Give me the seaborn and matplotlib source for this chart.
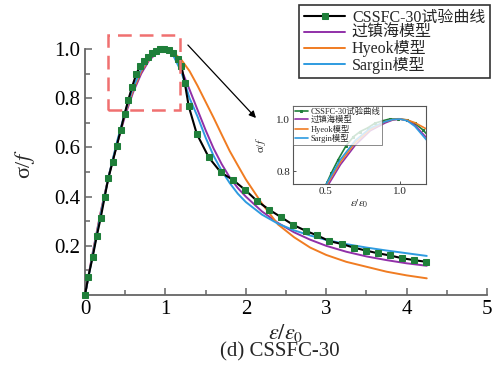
import matplotlib
matplotlib.use("Agg")
import matplotlib.pyplot as plt
import seaborn as sns
import pandas as pd
from matplotlib.patches import Rectangle
from matplotlib.ticker import FixedLocator

# Experimental stress-strain curve of CSSFC-30 (normalised)
exp_x = [0, 0.04, 0.095, 0.145, 0.195, 0.245, 0.29, 0.344, 0.394, 0.443, 0.493,
         0.538, 0.584, 0.637, 0.687, 0.733, 0.783, 0.832, 0.882, 0.93, 0.985,
         1.045, 1.10, 1.155, 1.2, 1.242, 1.29, 1.39, 1.54, 1.69, 1.84, 1.996,
         2.14, 2.29, 2.44, 2.59, 2.745, 2.89, 3.04, 3.2, 3.34, 3.49, 3.64, 3.79,
         3.94, 4.09, 4.245]
exp_y = [0, 0.072, 0.154, 0.238, 0.313, 0.399, 0.474, 0.542, 0.605, 0.669, 0.736,
         0.792, 0.844, 0.897, 0.932, 0.952, 0.966, 0.984, 0.993, 1.0, 1.0,
         0.997, 0.983, 0.958, 0.929, 0.86, 0.767, 0.655, 0.559, 0.498, 0.468, 0.426,
         0.382, 0.347, 0.316, 0.285, 0.261, 0.242, 0.219, 0.207, 0.193, 0.181, 0.17,
         0.161, 0.15, 0.142, 0.135]

# Constitutive model curves sampled on a common strain grid
model_x = [0, 0.1, 0.2, 0.3, 0.4, 0.5, 0.6, 0.7, 0.8, 0.9, 0.95, 1.0, 1.05, 1.1,
           1.2, 1.3, 1.4, 1.5, 1.6, 1.7, 1.8, 1.9, 2.0, 2.2, 2.4, 2.6, 2.8, 3.0,
           3.25, 3.5, 3.75, 4.0, 4.25]
guo_y = [0, 0.18, 0.345, 0.49, 0.615, 0.73, 0.825, 0.90, 0.955, 0.985, 0.996, 1.0,
         0.994, 0.976, 0.915, 0.835, 0.752, 0.67, 0.595, 0.532, 0.478, 0.435, 0.40,
         0.34, 0.293, 0.255, 0.225, 0.20, 0.176, 0.157, 0.142, 0.129, 0.119]
hyeok_y = [0, 0.175, 0.34, 0.49, 0.62, 0.74, 0.835, 0.91, 0.96, 0.99, 0.998, 1.0,
           0.996, 0.986, 0.955, 0.91, 0.85, 0.785, 0.72, 0.652, 0.585, 0.527, 0.47,
           0.372, 0.287, 0.235, 0.193, 0.163, 0.135, 0.115, 0.095, 0.08, 0.068]
sargin_y = [0, 0.17, 0.335, 0.49, 0.625, 0.745, 0.845, 0.918, 0.965, 0.99, 0.998,
            1.0, 0.993, 0.972, 0.905, 0.80, 0.725, 0.64, 0.565, 0.505, 0.455, 0.412,
            0.378, 0.327, 0.29, 0.263, 0.242, 0.224, 0.207, 0.193, 0.181, 0.17, 0.159]

labels = ["CSSFC-30试验曲线", "过镇海模型", "Hyeok模型", "Sargin模型"]
c_black, c_green = "black", "#1f7f3a"
c_purple, c_orange, c_blue = "#9130a8", "#f07c22", "#2e9be0"

sns.set_style("ticks")
plt.rcParams["font.family"] = ["Liberation Serif", "Noto Sans CJK SC"]
plt.rcParams["mathtext.fontset"] = "stix"

exp_df = pd.DataFrame({"x": exp_x, "y": exp_y})
mod_df = pd.DataFrame({"x": model_x, "guo": guo_y, "hyeok": hyeok_y, "sargin": sargin_y})

fig = plt.figure(figsize=(4.97, 3.67), dpi=100)
ax = fig.add_axes([0.171, 0.196, 0.809, 0.711])

sns.lineplot(data=exp_df, x="x", y="y", ax=ax, color=c_black, lw=1.5,
             marker="s", markersize=4.6, markerfacecolor=c_green,
             markeredgecolor=c_green, estimator=None, sort=False,
             label=labels[0], zorder=5, clip_on=False)
for col, colour, lab in [("guo", c_purple, labels[1]),
                         ("hyeok", c_orange, labels[2]),
                         ("sargin", c_blue, labels[3])]:
    sns.lineplot(data=mod_df, x="x", y=col, ax=ax, color=colour, lw=1.4,
                 estimator=None, sort=False, label=lab, zorder=4, clip_on=False)

ax.set_xlim(0, 5)
ax.set_ylim(0, 1.06)
ax.spines["left"].set_bounds(0, 1.0)
for s in ["top", "right"]:
    ax.spines[s].set_visible(False)
for s in ["left", "bottom"]:
    ax.spines[s].set_color("#666666")
    ax.spines[s].set_linewidth(1.3)
ax.xaxis.set_major_locator(FixedLocator([0, 1, 2, 3, 4, 5]))
ax.xaxis.set_minor_locator(FixedLocator([0.5, 1.5, 2.5, 3.5, 4.5]))
ax.yaxis.set_major_locator(FixedLocator([0.2, 0.4, 0.6, 0.8, 1.0]))
ax.yaxis.set_minor_locator(FixedLocator([0.1, 0.3, 0.5, 0.7, 0.9]))
ax.set_xticklabels(["0", "1", "2", "3", "4", "5"])
ax.set_yticklabels(["0.2", "0.4", "0.6", "0.8", "1.0"])
ax.tick_params(which="both", direction="in", color="#666666", width=1.1,
               labelsize=15, labelcolor="black")
ax.tick_params(which="major", length=5)
ax.tick_params(which="minor", length=3.5)
ax.set_xlabel(r"$\varepsilon/\varepsilon_0$", fontsize=16, labelpad=2)
ax.set_ylabel("σ/$f$", fontsize=16, labelpad=12)

# Zoom window and pointer to the inset
ax.add_patch(Rectangle((0.28, 0.75), 0.9, 0.305, fill=False, edgecolor="#f07070",
                       lw=1.8, ls=(0, (5.5, 3.2)), clip_on=False, zorder=6))
ax.annotate("", xy=(2.15, 0.711), xytext=(1.256, 1.024),
            arrowprops=dict(arrowstyle="-|>", color="black", lw=0.9,
                            mutation_scale=10),
            annotation_clip=False)

handles, _ = ax.get_legend_handles_labels()
leg = ax.legend(handles, labels, loc="upper right", bbox_to_anchor=(0.986, 0.986),
                bbox_transform=fig.transFigure, fontsize=11.5, frameon=True,
                fancybox=False, edgecolor="black", handlelength=2.6,
                handletextpad=0.4, labelspacing=-0.05, borderpad=0.3,
                borderaxespad=0, numpoints=1)
leg.get_frame().set_linewidth(1.2)

# Inset: detail around the peak
axin = fig.add_axes([0.5895, 0.4986, 0.2676, 0.2125])
sns.lineplot(data=exp_df, x="x", y="y", ax=axin, color=c_green, lw=1.2,
             marker="s", markersize=2, markeredgecolor=c_green,
             estimator=None, sort=False, label=labels[0])
for col, colour, lab in [("guo", c_purple, labels[1]),
                         ("hyeok", c_orange, labels[2]),
                         ("sargin", c_blue, labels[3])]:
    sns.lineplot(data=mod_df, x="x", y=col, ax=axin, color=colour, lw=1.2,
                 estimator=None, sort=False, label=lab)
axin.set_xlim(0.28, 1.175)
axin.set_ylim(0.75, 1.05)
axin.xaxis.set_major_locator(FixedLocator([0.5, 1.0]))
axin.yaxis.set_major_locator(FixedLocator([0.8, 1.0]))
axin.set_xticklabels(["0.5", "1.0"])
axin.set_yticklabels(["0.8", "1.0"])
axin.tick_params(direction="in", length=2.5, width=0.7, labelsize=8, pad=2,
                 color="#555555")
for s in axin.spines.values():
    s.set_color("#555555")
    s.set_linewidth(0.8)
axin.set_xlabel(r"$\varepsilon/\varepsilon_0$", fontsize=8, labelpad=1)
axin.set_ylabel("σ/$f$", fontsize=8, labelpad=6)
ileg = axin.legend(loc="upper left", fontsize=6, frameon=True, fancybox=False,
                   edgecolor="#555555", handlelength=1.6, handletextpad=0.3,
                   labelspacing=0.05, borderpad=0.2, borderaxespad=0,
                   numpoints=1)
ileg.get_frame().set_linewidth(0.6)

fig.text(0.563, 0.041, "(d) CSSFC-30", ha="center", va="center", fontsize=15)

fig.savefig("out.png", dpi=100)
